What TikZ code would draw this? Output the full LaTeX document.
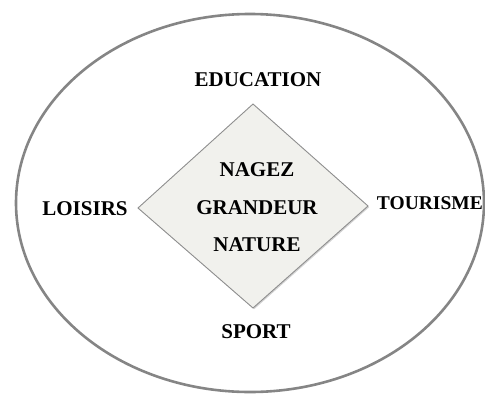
\documentclass[tikz,border=0pt]{standalone}
\usepackage{fontspec}
\setmainfont{Liberation Serif}
\usetikzlibrary{shapes.geometric,shadows}
\definecolor{ringgray}{HTML}{858585}
\definecolor{diafill}{HTML}{F1F1ED}
\definecolor{diaborder}{HTML}{8E8E8E}
\tikzset{
  lbl/.style={font=\fontsize{21}{24}\selectfont\bfseries, inner sep=0pt, text=black},
  ring/.style={draw=ringgray, line width=2.6pt},
  hub/.style={draw=diaborder, line width=0.9pt, fill=diafill, drop shadow={shadow xshift=1.2pt, shadow yshift=-1.2pt, opacity=0.35}}
}
\begin{document}
\begin{tikzpicture}[x=1pt,y=-1pt]
\useasboundingbox (0,0) rectangle (485,394);
\begin{scope}
\clip (0,0) rectangle (485,394);
\draw[ring] (250,203) ellipse [x radius=234, y radius=189];
\end{scope}
\path[hub] (253,104) coordinate (dt) -- (368,206) coordinate (dr) -- (253,308) coordinate (db) -- (138,208) coordinate (dl) -- cycle;
\node[lbl] (nagez) at (257,170) {NAGEZ};
\node[lbl] (grandeur) at (257,208) {GRANDEUR};
\node[lbl] (nature) at (257,245) {NATURE};
\node[lbl] (education) at (258,80) {EDUCATION};
\node[lbl] (loisirs) at (85,209) {LOISIRS};
\node[lbl,anchor=east,font=\fontsize{19.5}{22}\selectfont\bfseries] (tourisme) at (483,203) {TOURISME};
\node[lbl] (sport) at (256,332) {SPORT};
\end{tikzpicture}
\end{document}
